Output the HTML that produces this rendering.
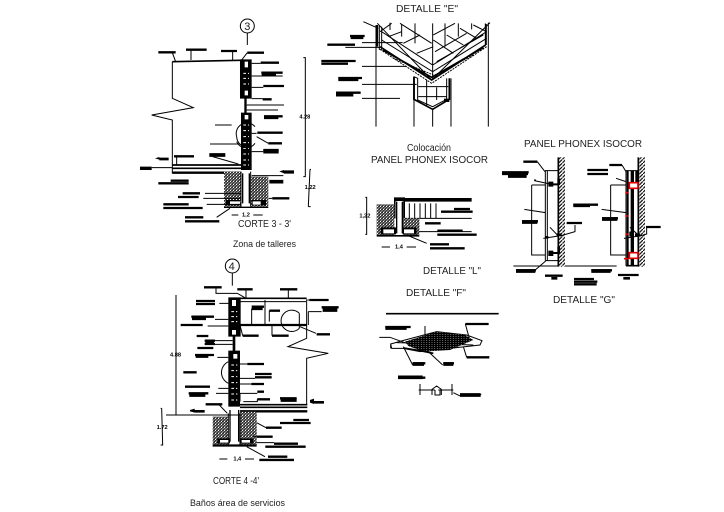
<!DOCTYPE html>
<html><head><meta charset="utf-8"><style>
html,body{margin:0;padding:0;background:#fff}
svg{display:block}
.t{fill:none;stroke:#000;stroke-width:3}
.m{fill:none;stroke:#000;stroke-width:5}
.b{fill:none;stroke:#000;stroke-width:7}
.x{fill:none;stroke:#000;stroke-width:11}
.f{fill:#000}
.w{fill:none;stroke:#fff;stroke-width:3}
.r{fill:none;stroke:#e00000;stroke-width:5}
.dim{font-size:17px;font-weight:bold;fill:#000}
text{font-family:"Liberation Sans",sans-serif;fill:#222;font-size:10px}
</style></head><body>
<svg width="724" height="512" viewBox="0 0 724 512" xmlns="http://www.w3.org/2000/svg">
<defs>
<pattern id="h" width="9" height="9" patternUnits="userSpaceOnUse"><rect width="9" height="9" fill="#333"/><rect x="0" y="0" width="3" height="3" fill="#fff"/><rect x="5" y="3" width="3" height="2" fill="#fff"/><rect x="2" y="6" width="3" height="2" fill="#fff"/></pattern>
<pattern id="d" width="11" height="11" patternUnits="userSpaceOnUse"><rect width="11" height="11" fill="#fff"/><path d="M0 11L11 0" stroke="#000" stroke-width="3.5"/></pattern>
<pattern id="g" width="8" height="6" patternUnits="userSpaceOnUse"><rect width="8" height="6" fill="#000"/><rect x="1" y="1" width="2" height="2" fill="#fff"/></pattern>
</defs>
<rect width="724" height="512" fill="#fff"/>

<!-- CORTE 3 -->
<g transform="translate(140 10) scale(.3333)">
<circle cx="322" cy="48" r="21" class="t"/><path class="t" d="M322 70V105"/>
<path class="m" d="M97 155L300 151"/>
<path class="t" d="M97 155V265L160 293L35 315L97 330V490"/>
<path class="b" d="M55 127H107M138 119H200M243 123H291M322 128H372M362 158H417M364 188H428M370 228H432M368 268H395M372 319H428M352 368H428M385 400H426M370 420H416M102 439H162"/>
<path class="x" d="M372 322H415M370 425H416M365 192H408M208 435H256M388 515H430"/>
<path class="t" d="M97 128L107 155M153 119V150M278 123V150M322 128L305 150M335 160H362M335 198H428M335 232H370M335 266H368M320 285H432M320 300H414M225 345H275M210 402H300M335 425H370M335 370H350M350 380L385 400M110 437V465M218 440L295 462"/>
<path class="f" d="M300 148H335V266H300ZM313 266H320V310H313ZM303 308H335V480H303Z"/>
<path d="M314 155H324V172H314ZM314 242H324V256H314ZM314 315H325V328H314Z" fill="#fff"/>
<path class="w" stroke-dasharray="8 6" d="M310 190H327M310 205H327M310 222H327M310 345H327M310 362H327M310 380H327M310 398H327M310 415H327M310 432H327M310 450H327M310 465H327"/>
<path class="t" d="M290 380A32 32 0 0 1 345 350M345 400A32 32 0 0 1 290 395M290 380A29 32 0 0 0 303 405"/>
<path class="m" d="M97 465H303M97 475H303"/>
<path class="b" d="M97 488H303"/>
<path class="f" d="M45 445L58 441V449ZM58 443H86V451H58ZM0 470H35V480H0ZM418 484L432 480V490ZM432 481H462V491H432Z"/>
<path class="t" d="M35 473H97"/>
<path d="M252 485H303V590H252ZM332 500H385V590H332Z" fill="url(#h)"/>
<path class="t" d="M303 485V590M332 485V590M335 497H430"/>
<path class="f" d="M252 590H385V594H252ZM258 570H300V586H258ZM335 570H378V586H335ZM306 490H310V580H306ZM326 490H330V580H326Z"/>
<path d="M270 574H300V584H270ZM338 574H362V584H338Z" fill="#fff"/>
<path class="b" d="M92 512H146M55 520H146M128 550H180M114 561H176M70 583H146M70 594H188M135 622H190M135 634H238M397 565H448"/>
<path class="t" d="M195 550H303M190 565H303M200 583H303M230 622L270 595M386 565H397"/>
<path class="t" d="M490 143H496V500H490M510 478L505 590M510 478H513M505 590H512"/>
<text x="478" y="325" class="dim">4.28</text>
<text x="494" y="537" class="dim">1,22</text>
<path class="t" d="M275 615H295M340 615H368"/>
<text x="306" y="620" class="dim">1,2</text>
</g>

<!-- CORTE 4 -->
<g transform="translate(140 250) scale(.3333)">
<circle cx="277" cy="48" r="21" class="t"/><path class="t" d="M277 70V107"/>
<path class="t" d="M108 135V495M78 495H350M65 475L68 585H62M65 475H62"/>
<path class="m" d="M268 145H500"/>
<path class="t" d="M290 155H498M500 148V225"/>
<path class="b" d="M300 225H500"/>
<path class="f" d="M265 142H302V260H265ZM278 260H286V305H278ZM265 302H300V470H265Z"/>
<path d="M276 150H288V168H276ZM276 240H288V254H276ZM280 312H292V326H280Z" fill="#fff"/>
<path class="w" stroke-dasharray="8 6" d="M274 185H292M274 200H292M274 215H292M274 345H292M274 362H292M274 380H292M274 398H292M274 415H292M274 432H292M274 450H292"/>
<path class="b" d="M192 112H245M292 118H338M420 118H472M168 153H225M168 162H225M335 170H372M388 182H420M154 200H222M122 225H188M308 257H356M396 257H446M530 253H570M170 258H205M194 272H225M194 282H225M172 294H220M165 315H222M130 367H170M135 410H210M146 430H205M322 342H372M345 372H395M345 382H395M334 402H372M352 425H372M352 448H390M420 445H470M197 463H247M508 150H566M545 172H596"/>
<path class="x" d="M156 205H198M167 318H205M148 435H196M422 450H470M336 175H368M548 180H592M196 277H222"/>
<path class="t" d="M228 112V130H292L318 145M318 118V145M445 118V145M238 160H268M225 208H265M203 228H265M508 150H502M505 185V225M505 185H545M480 230L528 250M300 225L308 257M396 225V257M335 175V222M375 150V222M388 182V215M225 272H278M225 283H278M232 322H265M300 342H322M300 385H345M300 402H334M235 415H265M228 430H265M300 455V430H352M310 455H352V448"/>
<path class="t" d="M478 190A32 32 0 1 0 478 235M478 190V235M265 335A36 36 0 0 0 265 400"/>
<path class="t" d="M500 225V265L444 290L565 310L500 325V465"/>
<path class="m" d="M300 464H502M300 472H502"/>
<path class="b" d="M300 484H502"/>
<path class="f" d="M150 480L164 476V488L150 484ZM164 480H194V488H164ZM510 450L522 446V462L510 458ZM522 453H552V461H522Z"/>
<path d="M218 500H265V585H218ZM300 485H350V585H300Z" fill="url(#h)"/>
<path class="t" d="M265 490V585M300 490V585M235 462L262 490"/>
<path class="f" d="M218 583H350V590H218ZM232 565H270V580H232ZM300 565H340V580H300ZM268 480H272V575H268ZM294 480H298V575H294Z"/>
<path d="M240 570H265V578H240ZM305 570H330V578H305Z" fill="#fff"/>
<path class="b" d="M460 510H507M420 519H512M378 533H425M350 560H398M402 581H474M376 590H497M384 620H442M358 630H462"/>
<path class="t" d="M350 518L378 533M350 560H340M350 578H402M320 590L375 620"/>
<path class="t" d="M238 627H262M315 627H342"/>
<text x="280" y="632" class="dim">1,4</text>
<text x="90" y="320" class="dim">4.88</text>
<text x="50" y="537" class="dim">1.72</text>
</g>

<!-- DETALLE E -->
<g transform="translate(320 0) scale(.3333)">
<path class="t" d="M130 65L175 85M168 75V380M178 75V150M172 70L335 240L510 68M185 80V150M496 70V135M505 68V380M338 328V380M282 230V380M393 235V380"/>
<path class="m" d="M172 75V140M498 72V135M282 230V300M388 235V300"/>
<path class="t" d="M185 95L338 195L500 95M185 120L338 215L500 115M210 68V90M245 72V110M285 70V130M338 70V240M375 70V140M415 70V110M455 70V88M205 110L245 95M180 95L215 70M250 130L300 105M290 160L340 140M340 120L400 160M380 105L430 135M420 85L470 115M460 75L500 95M240 70L335 130M340 105L405 70M345 155L440 100M350 185L490 105"/>
<path class="m" d="M180 140L335 240L497 135M188 150L335 232L490 143"/>
<path class="t" d="M180 148L335 250L500 140M220 175L340 225M460 165L345 225" stroke-dasharray="6 3"/>
<path class="m" d="M282 230L282 298L338 328L388 298V235"/>
<path class="t" d="M282 230L293 235V300L338 320L380 298V235M295 260L385 260M295 290L380 290M320 240V290M350 262V300M320 290V320"/>
<path class="f" d="M372 296H388V306H372Z"/>
<path class="b" d="M90 108H134M22 134H105M4 183H107M4 191H84M55 234H126M48 278H122"/>
<path class="x" d="M92 112H130M55 238H115M48 284H100"/>
<path class="t" d="M126 128H248M76 142H180M126 199H260M126 253H290M126 295H240"/>
</g>

<!-- DETALLE L -->
<g transform="translate(350 140) scale(.3333)">
<path class="t" d="M46 172H50V283H46M162 190V235M178 190V235M194 190V235M210 190V235M226 190V235M242 190V235M258 190V235M165 235H365M206 250V275H365M170 285L230 310"/>
<path class="f" d="M132 172H165V235H160V183H137V235H132ZM165 174H365V185H165ZM145 190H152V235H145ZM80 285H208V290H80Z"/>
<path d="M80 193H133V285H80ZM160 235H208V285H160Z" fill="url(#h)"/>
<path d="M137 185H160V285H137Z" fill="#fff"/>
<path class="f" d="M138 185H142V280H138ZM155 185H160V280H155ZM92 262H138V283H92ZM158 262H200V283H158Z"/>
<path d="M100 268H132V280H100ZM162 268H192V280H162Z" fill="#fff"/>
<path class="b" d="M312 207H360M273 215H368M225 250H272M262 272H338M262 284H380M240 313H297M240 325H344"/>
<path class="t" d="M95 321H120M170 321H198"/>
<text x="135" y="326" class="dim">1,4</text>
<text x="28" y="232" class="dim">1,22</text>
</g>

<!-- DETALLE G -->
<g transform="translate(500 130) scale(.3333)">
<rect x="175" y="82" width="20" height="328" fill="url(#d)"/><path class="m" d="M175 82V410"/>
<rect x="415" y="82" width="20" height="328" fill="url(#d)"/><path class="m" d="M415 82V410"/>
<path class="t" d="M40 408H175M195 408H350M378 408H415"/>
<path class="t" d="M135 122H175M142 122V392M136 122V392M136 392H175"/>
<path class="t" d="M112 95L135 125M95 165H136M95 165V375H136M73 238L136 248M103 152L150 162M108 150H102M100 425L137 393M225 285V305L180 318M150 292L175 318L130 325"/>
<path class="f" d="M145 155H160V170H145ZM172 145H180V165H172ZM145 362H160V378H145ZM172 350H180V370H172ZM160 160H175V166H160ZM160 366H175V372H160ZM135 318H145V326H135ZM170 310H185V318H170Z"/>
<path class="b" d="M70 95H112M6 127H86M220 224H294M66 274H114M200 279H246M48 421H108M135 437H188M222 447H282M222 455H292M222 463H290M328 105H366M262 120H324M262 132H324M306 265H354M438 291H482M274 421H336M354 435H416"/>
<path class="x" d="M6 130H84M24 138H80M220 226H270M66 276H112M48 423H106M306 267H352M274 423H332"/>
<path class="f" d="M154 441H172V449H154ZM370 441H390V449H370Z"/>
<path class="f" d="M380 122H386V406H380ZM392 122H402V406H392ZM406 122H414V160H406Z"/>
<path class="t" d="M378 122V406H415M376 122H415M366 105L378 125M332 165H378M332 165V375H378M305 238L378 248M348 145L378 155M440 291V312L420 318M390 292L418 318L372 325"/>
<path class="f" d="M388 305H402V320H388ZM405 310H420V318H405Z"/>
<path d="M388 158H414V175H388ZM388 368H414V385H388Z" fill="#fff" stroke="#e00000" stroke-width="5"/>
<path class="r" d="M376 188H386M376 258H386M376 313H386M372 386H386"/>
</g>

<!-- DETALLE F -->
<g transform="translate(370 280) scale(.3333)">
<path class="m" d="M48 101H386"/>
<path class="t" d="M62 192L105 180L200 155L290 165L336 182L330 195L240 205L150 215L100 205L65 205ZM62 192V205M80 188L310 195M165 138V165M286 132L298 175M280 200L290 232M100 200L128 255M175 215L218 255M28 172H60L110 190"/>
<path d="M105 185L200 155L285 165L310 180L240 210L160 215L115 198Z" fill="url(#g)"/>
<path class="m" d="M100 204L150 212L190 220"/>
<path class="b" d="M46 141H122M286 132H356M290 232H358M128 250H166M220 250H252M84 293H166"/>
<path class="x" d="M46 144H110M84 292H158M128 252H162M220 252H250M270 345H332"/>
<path class="t" d="M150 312V345M246 312V345M146 330H195M205 330H250M195 330V345H210V330M186 345V328L200 318L214 328V345M250 338L270 348M270 344H334"/>
</g>

<!-- Labels -->
<g>
<text x="244.3" y="30" style="font-size:11px">3</text>
<text x="228.6" y="270" style="font-size:11px">4</text>
<text x="238" y="227" textLength="53" lengthAdjust="spacingAndGlyphs">CORTE 3 - 3'</text>
<text x="233" y="247" textLength="63" lengthAdjust="spacingAndGlyphs" style="font-size:9px">Zona de talleres</text>
<text x="213" y="484" textLength="46" lengthAdjust="spacingAndGlyphs">CORTE 4 -4'</text>
<text x="190" y="506" textLength="95" lengthAdjust="spacingAndGlyphs" style="font-size:9px">Baños área de servicios</text>
<text x="396" y="12" textLength="62" lengthAdjust="spacingAndGlyphs">DETALLE "E"</text>
<text x="407" y="151" textLength="44" lengthAdjust="spacingAndGlyphs">Colocación</text>
<text x="371" y="163" textLength="117" lengthAdjust="spacingAndGlyphs">PANEL PHONEX ISOCOR</text>
<text x="423" y="274" textLength="58" lengthAdjust="spacingAndGlyphs">DETALLE "L"</text>
<text x="524" y="147" textLength="118" lengthAdjust="spacingAndGlyphs">PANEL PHONEX ISOCOR</text>
<text x="553" y="303" textLength="62" lengthAdjust="spacingAndGlyphs">DETALLE "G"</text>
<text x="406" y="296" textLength="60" lengthAdjust="spacingAndGlyphs">DETALLE "F"</text>
</g>
</svg>
</body></html>
